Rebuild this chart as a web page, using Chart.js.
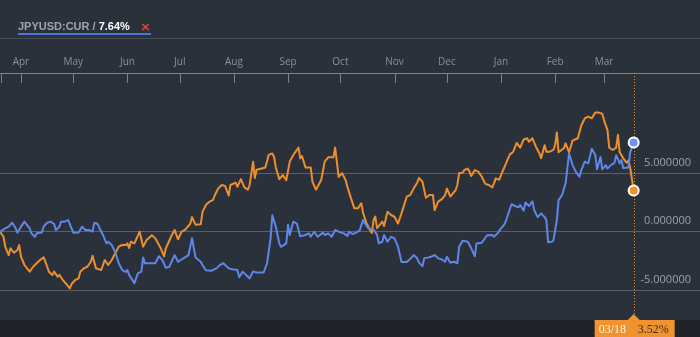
<!DOCTYPE html>
<html>
<head>
<meta charset="utf-8">
<script src="https://cdn.jsdelivr.net/npm/chart.js@4.4.0/dist/chart.umd.min.js"></script>
<style>
  html, body { margin: 0; padding: 0; background: #2a313b; }
  #wrap { position: relative; width: 700px; height: 337px; overflow: hidden; background: #2a313b; }
  #chart { position: absolute; left: 0; top: 0; }
  .sep { position: absolute; left: 0; top: 38px; width: 700px; height: 1px; background: #454c56; }
  .legend { position: absolute; left: 18px; top: 18px; height: 17px; line-height: 12px;
            font: bold 11px "Liberation Sans", Arial, sans-serif; color: #9ea4ad; white-space: nowrap; }
  .legend .val { color: #ffffff; }
  .legend .close { color: #e2453b; margin-left: 10px; font: bold 13px "DejaVu Sans", sans-serif; position: relative; top: 1px; }
  .legend .underline { position: absolute; left: 0; right: 0; top: 15px; height: 2px; background: #4f74d8; }
</style>
</head>
<body>
<div id="wrap">
  <canvas id="chart" width="700" height="337"></canvas>
  <div class="sep"></div>
  <div class="legend"><span id="legendName"></span> / <span class="val" id="legendVal"></span><span class="close">×</span><div class="underline"></div></div>
</div>
<script>
// ---- data ----------------------------------------------------------------
const START_DATE = '2018-03-20';
const DAYS_AFTER_LAST = 38;

const jpyName = 'JPYUSD:CUR';
const jpyDates = [
  '2018-03-20','2018-03-23','2018-03-25','2018-03-27','2018-03-29','2018-03-30','2018-04-01','2018-04-03','2018-04-04','2018-04-06',
  '2018-04-07','2018-04-09','2018-04-10','2018-04-13','2018-04-14','2018-04-16','2018-04-18','2018-04-20','2018-04-21','2018-04-23',
  '2018-04-24','2018-04-26','2018-04-28','2018-04-29','2018-05-01','2018-05-04','2018-05-06','2018-05-08','2018-05-10','2018-05-12',
  '2018-05-13','2018-05-15','2018-05-16','2018-05-18','2018-05-20','2018-05-21','2018-05-23','2018-05-25','2018-05-27','2018-05-29',
  '2018-05-31','2018-06-01','2018-06-02','2018-06-05','2018-06-07','2018-06-09','2018-06-10','2018-06-11','2018-06-17','2018-06-19',
  '2018-06-21','2018-06-23','2018-06-25','2018-06-28','2018-06-30','2018-07-03','2018-07-06','2018-07-08','2018-07-10','2018-07-13',
  '2018-07-14','2018-07-16','2018-07-19','2018-07-22','2018-07-24','2018-07-26','2018-07-29','2018-07-31','2018-08-03','2018-08-04',
  '2018-08-06','2018-08-10','2018-08-12','2018-08-14','2018-08-18','2018-08-20','2018-08-22','2018-08-23','2018-08-25','2018-08-27',
  '2018-08-28','2018-08-31','2018-09-01','2018-09-02','2018-09-04','2018-09-06','2018-09-08','2018-09-11','2018-09-13','2018-09-14',
  '2018-09-16','2018-09-18','2018-09-21','2018-09-22','2018-09-24','2018-09-26','2018-09-28','2018-09-30','2018-10-03','2018-10-05',
  '2018-10-06','2018-10-08','2018-10-10','2018-10-12','2018-10-14','2018-10-15','2018-10-17','2018-10-20','2018-10-22','2018-10-23',
  '2018-10-25','2018-10-26','2018-10-28','2018-10-30','2018-11-01','2018-11-03','2018-11-05','2018-11-08','2018-11-10','2018-11-12',
  '2018-11-14','2018-11-15','2018-11-17','2018-11-18','2018-11-20','2018-11-22','2018-11-24','2018-11-26','2018-11-28','2018-11-30',
  '2018-12-01','2018-12-03','2018-12-05','2018-12-07','2018-12-08','2018-12-10','2018-12-13','2018-12-15','2018-12-17','2018-12-18',
  '2018-12-21','2018-12-24','2018-12-27','2018-12-28','2018-12-30','2019-01-01','2019-01-03','2019-01-04','2019-01-07','2019-01-09',
  '2019-01-11','2019-01-12','2019-01-14','2019-01-15','2019-01-17','2019-01-19','2019-01-20','2019-01-22','2019-01-24','2019-01-26',
  '2019-01-27','2019-01-28','2019-01-30','2019-01-31','2019-02-02','2019-02-03','2019-02-05','2019-02-07','2019-02-09','2019-02-11',
  '2019-02-13','2019-02-15','2019-02-16','2019-02-18','2019-02-20','2019-02-22','2019-02-24','2019-02-25','2019-02-27','2019-02-28',
  '2019-03-02','2019-03-03','2019-03-05','2019-03-07','2019-03-08','2019-03-10','2019-03-11','2019-03-12','2019-03-15','2019-03-16',
  '2019-03-18'
];
const jpyValues = [
  0, 0.29, 0.43, 0.77, 0.29, -0.08, 0.43, 0.86, 0.66, 0.29,
  -0.14, -0.43, -0.14, -0.06, 0.43, 0.77, 0.86, 0.66, 0.15, 0.43,
  0.86, 0.86, 1.0, 0.66, -0.08, -0.06, 0.43, 0.15, 0.15, 0,
  0.77, 0.66, 0.29, -0.28, -1.0, -0.86, -1.14, -1.75, -2.7, -3.28,
  -3.45, -3.28, -3.71, -4.4, -3.56, -3.42, -2.2, -2.7, -2.7, -2.1,
  -2.42, -3.1, -3.0, -2.0, -2.57, -2.28, -2.0, -0.55, -2.2, -2.57,
  -2.85, -3.3, -3.34, -3.14, -2.85, -2.7, -3.14, -3.22, -3.28, -3.9,
  -3.42, -4.0, -3.4, -3.5, -3.5, -2.7, -0.57, 1.4, 0.43, -1.0,
  -1.3, -1.0, 0.6, -0.28, 0.85, 0.72, -0.4, -0.28, -0.14, -0.43,
  0, -0.43, -0.08, -0.28, -0.14, -0.43, 0.15, 0, -0.14, -0.37,
  0, -0.2, -0.08, 0.09, 1.0, 0.72, 0.29, 0.2, -0.28, -1.0,
  -0.86, -0.28, -0.86, -0.43, -0.57, -1.28, -2.6, -2.6, -2.34, -2.0,
  -2.28, -2.65, -2.95, -2.28, -2.22, -2.14, -2.0, -2.28, -2.37, -2.57,
  -2.14, -2.65, -2.57, -2.7, -1.3, -0.77, -0.86, -1.43, -2.1, -1.0,
  -0.94, -0.3, -0.28, -0.43, -0.14, 0.29, 0.65, 1.0, 2.35, 2.2,
  2.09, 2.28, 1.8, 2.5, 2.2, 2.6, 1.85, 1.25, 1.57, 1.25,
  1.0, -0.9, -0.86, -0.77, 1.0, 2.7, 3.14, 4.15, 6.7, 5.7,
  5.1, 4.7, 5.28, 6.0, 5.85, 7.1, 6.57, 5.35, 6.4, 5.34,
  5.7, 5.42, 5.7, 5.9, 6.55, 5.85, 6.14, 5.45, 5.5, 6.8,
  7.64
];

const benchName = 'Benchmark';
const benchDates = [
  '2018-03-20','2018-03-22','2018-03-23','2018-03-25','2018-03-26','2018-03-28','2018-03-30','2018-03-31','2018-04-01','2018-04-03',
  '2018-04-06','2018-04-08','2018-04-10','2018-04-12','2018-04-14','2018-04-15','2018-04-17','2018-04-19','2018-04-20','2018-04-22',
  '2018-04-23','2018-04-25','2018-04-27','2018-04-29','2018-04-30','2018-05-02','2018-05-04','2018-05-05','2018-05-07','2018-05-09',
  '2018-05-11','2018-05-12','2018-05-14','2018-05-17','2018-05-19','2018-05-21','2018-05-23','2018-05-25','2018-05-27','2018-05-29',
  '2018-05-31','2018-06-01','2018-06-02','2018-06-03','2018-06-05','2018-06-08','2018-06-10','2018-06-12','2018-06-15','2018-06-17',
  '2018-06-20','2018-06-22','2018-06-23','2018-06-26','2018-06-28','2018-06-30','2018-07-02','2018-07-04','2018-07-07','2018-07-08',
  '2018-07-10','2018-07-13','2018-07-14','2018-07-16','2018-07-18','2018-07-20','2018-07-21','2018-07-23','2018-07-25','2018-07-27',
  '2018-07-29','2018-07-30','2018-08-02','2018-08-03','2018-08-05','2018-08-07','2018-08-09','2018-08-10','2018-08-12','2018-08-13',
  '2018-08-14','2018-08-17','2018-08-19','2018-08-21','2018-08-23','2018-08-24','2018-08-25','2018-08-27','2018-08-29','2018-08-31',
  '2018-09-02','2018-09-04','2018-09-07','2018-09-08','2018-09-09','2018-09-11','2018-09-14','2018-09-15','2018-09-17','2018-09-20',
  '2018-09-22','2018-09-24','2018-09-27','2018-09-28','2018-09-30','2018-10-02','2018-10-04','2018-10-05','2018-10-07','2018-10-09',
  '2018-10-11','2018-10-13','2018-10-14','2018-10-16','2018-10-18','2018-10-19','2018-10-20','2018-10-21','2018-10-22','2018-10-25',
  '2018-10-26','2018-10-28','2018-10-30','2018-11-01','2018-11-03','2018-11-05','2018-11-08','2018-11-10','2018-11-12','2018-11-14',
  '2018-11-15','2018-11-17','2018-11-19','2018-11-21','2018-11-23','2018-11-24','2018-11-26','2018-11-28','2018-11-30','2018-12-01',
  '2018-12-03','2018-12-06','2018-12-07','2018-12-08','2018-12-10','2018-12-11','2018-12-13','2018-12-14','2018-12-15','2018-12-17',
  '2018-12-19','2018-12-21','2018-12-23','2018-12-25','2018-12-27','2018-12-28','2018-12-29','2018-12-31','2019-01-02','2019-01-04',
  '2019-01-06','2019-01-08','2019-01-10','2019-01-12','2019-01-14','2019-01-16','2019-01-17','2019-01-19','2019-01-21','2019-01-23',
  '2019-01-24','2019-01-26','2019-01-27','2019-01-29','2019-01-31','2019-02-01','2019-02-02','2019-02-03','2019-02-06','2019-02-07',
  '2019-02-09','2019-02-11','2019-02-14','2019-02-16','2019-02-18','2019-02-20','2019-02-22','2019-02-24','2019-02-26','2019-02-28',
  '2019-03-01','2019-03-03','2019-03-04','2019-03-06','2019-03-08','2019-03-09','2019-03-10','2019-03-12','2019-03-14','2019-03-15',
  '2019-03-16','2019-03-18'
];
const benchValues = [
  0, -0.43, -1.28, -2.0, -1.42, -1.8, -1.57, -1.14, -2.14, -2.85,
  -3.42, -3.0, -2.7, -2.42, -2.2, -2.57, -3.42, -3.7, -3.42, -3.85,
  -3.7, -4.14, -4.48, -4.85, -4.48, -4.14, -4.0, -3.42, -3.14, -3.0,
  -2.57, -2.05, -3.14, -3.28, -2.42, -2.85, -2.42, -1.85, -1.28, -1.14,
  -1.14, -1.0, -1.4, -0.86, -1.0, 0, -1.28, -0.71, -0.3, -0.57,
  -1.4, -2.1, -1.42, -0.43, 0.15, -0.65, 0, 0.15, 0.7, 1.25,
  0.6, 0.63, 1.7, 2.3, 2.57, 2.7, 3.1, 3.7, 4.0, 3.91,
  3.1, 4.0, 4.2, 3.85, 4.5, 3.8, 3.6, 4.0, 6.0, 4.6,
  5.3, 5.42, 5.5, 6.6, 6.7, 6.42, 5.5, 4.5, 4.85, 4.42,
  6.0, 6.57, 7.2, 6.28, 6.48, 5.5, 5.5, 4.28, 3.6, 4.42,
  6.0, 6.37, 6.37, 7.2, 4.7, 5.0, 4.42, 3.85, 2.9, 2.0,
  2.0, 2.43, 1.6, 0.7, 0.15, -0.1, 1.0, 1.3, 0.3, 0.86,
  0.49, 1.7, 1.43, 1.28, 0.7, 1.57, 3.0, 3.14, 3.71, 4.2,
  4.6, 4.28, 2.9, 3.14, 3.14, 1.85, 2.57, 2.77, 3.14, 3.7,
  3.0, 3.57, 4.0, 5.0, 5.05, 5.28, 5.4, 5.14, 4.77, 5.28,
  5.14, 4.71, 4.1, 4.0, 3.8, 4.14, 4.57, 4.45, 5.2, 5.9,
  6.6, 6.85, 7.6, 7.2, 7.9, 8.0, 7.7, 8.0, 7.28, 6.7,
  6.3, 7.4, 6.85, 6.85, 7.0, 7.42, 8.5, 6.8, 7.14, 7.57,
  6.8, 7.8, 8.0, 9.1, 9.7, 9.85, 9.71, 10.2, 10.2, 10.1,
  9.56, 8.7, 7.2, 7.0, 7.2, 8.3, 6.8, 6.3, 5.9, 6.1,
  5.5, 3.52
];

const monthTickDates = ['2018-04-01','2018-05-01','2018-06-01','2018-07-01','2018-08-01','2018-09-01',
                        '2018-10-01','2018-11-01','2018-12-01','2019-01-01','2019-02-01','2019-03-01'];
const monthTickLabels = ['Apr','May','Jun','Jul','Aug','Sep','Oct','Nov','Dec','Jan','Feb','Mar'];
const yTickValues = [-5, 0, 5];
const Y_MIN = -7.56;
const Y_MAX = 13.59;

// ---- colours -------------------------------------------------------------
const BLUE = '#5f86e8';
const ORANGE = '#ee8f2d';
const TAG_ORANGE = '#f0932f';

// ---- helpers -------------------------------------------------------------
function utc(iso) {
  const [y, m, d] = iso.split('-').map(Number);
  return Date.UTC(y, m - 1, d);
}
const START_MS = utc(START_DATE);
function dayOf(iso) { return Math.round((utc(iso) - START_MS) / 86400000); }
function points(dates, values) { return dates.map((d, i) => ({ x: dayOf(d), y: values[i] })); }

const lastDate = jpyDates[jpyDates.length - 1];
const lastDay = dayOf(lastDate);
const lastPointOnly = (ctx) => ctx.dataIndex === ctx.dataset.data.length - 1 ? 5 : 0;

document.getElementById('legendName').textContent = jpyName;
document.getElementById('legendVal').textContent = jpyValues[jpyValues.length - 1].toFixed(2) + '%';

// ---- decorations drawn through the scales ---------------------------------
const decorations = {
  id: 'decorations',
  beforeDatasetsDraw(chart) {
    const { ctx, chartArea: a, scales: { x } } = chart;
    ctx.save();
    // short tick marks hanging below the top axis line
    ctx.strokeStyle = '#7c8189';
    ctx.lineWidth = 1;
    ctx.beginPath();
    const firstPx = Math.round(x.getPixelForValue(dayOf(jpyDates[0]))) + 1.5;
    ctx.moveTo(firstPx, a.top); ctx.lineTo(firstPx, a.top + 10);
    x.ticks.forEach(t => {
      const px = Math.round(x.getPixelForValue(t.value)) + 0.5;
      ctx.moveTo(px, a.top); ctx.lineTo(px, a.top + 10);
    });
    ctx.stroke();
    // dotted marker at the latest date
    const lx = Math.round(x.getPixelForValue(lastDay)) + 0.5;
    ctx.strokeStyle = TAG_ORANGE;
    ctx.setLineDash([1, 2]);
    ctx.beginPath();
    ctx.moveTo(lx, a.top);
    ctx.lineTo(lx, a.bottom - 6);
    ctx.stroke();
    ctx.restore();
  },
  afterDraw(chart) {
    const { ctx, chartArea: a, scales: { x } } = chart;
    const lx = x.getPixelForValue(lastDay);
    ctx.save();
    // footer strip
    ctx.fillStyle = '#1f2328';
    ctx.fillRect(0, a.bottom, chart.width, chart.height - a.bottom);
    // date / value tag for the benchmark series
    ctx.fillStyle = TAG_ORANGE;
    ctx.fillRect(lx - 39, a.bottom, 80, chart.height - a.bottom);
    ctx.beginPath();
    ctx.moveTo(lx - 6, a.bottom);
    ctx.lineTo(lx, a.bottom - 6);
    ctx.lineTo(lx + 6, a.bottom);
    ctx.closePath();
    ctx.fill();
    const [, mm, dd] = lastDate.split('-');
    ctx.font = '12px "Liberation Serif", serif';
    ctx.textBaseline = 'alphabetic';
    ctx.textAlign = 'left';
    ctx.fillStyle = '#fff4e8';
    ctx.fillText(mm + '/' + dd, lx - 35, a.bottom + 12.5);
    ctx.fillStyle = '#3b2e23';
    ctx.fillText(benchValues[benchValues.length - 1].toFixed(2) + '%', lx + 4, a.bottom + 12.5);
    ctx.restore();
  }
};

new Chart(document.getElementById('chart'), {
  type: 'line',
  data: {
    datasets: [
      {
        label: jpyName,
        data: points(jpyDates, jpyValues),
        borderColor: BLUE,
        borderWidth: 2,
        borderJoinStyle: 'round',
        tension: 0,
        pointRadius: lastPointOnly,
        pointHoverRadius: 0,
        pointBackgroundColor: '#6c92f2',
        pointBorderColor: '#ffffff',
        pointBorderWidth: 2
      },
      {
        label: benchName,
        data: points(benchDates, benchValues),
        borderColor: ORANGE,
        borderWidth: 2,
        borderJoinStyle: 'round',
        tension: 0,
        pointRadius: lastPointOnly,
        pointHoverRadius: 0,
        pointBackgroundColor: TAG_ORANGE,
        pointBorderColor: '#ffffff',
        pointBorderWidth: 2
      }
    ]
  },
  options: {
    responsive: false,
    animation: false,
    events: [],
    layout: { autoPadding: false, padding: { top: 38, bottom: 17, left: 0, right: 0 } },
    plugins: { legend: { display: false }, tooltip: { enabled: false } },
    scales: {
      x: {
        type: 'linear',
        position: 'top',
        min: 0,
        max: lastDay + DAYS_AFTER_LAST,
        afterFit(scale) { scale.height = 35; scale.paddingLeft = 0; scale.paddingRight = 0; },
        afterBuildTicks(scale) { scale.ticks = monthTickDates.map(d => ({ value: dayOf(d) })); },
        grid: { display: false, drawTicks: false },
        border: { display: true, color: '#7c8189', width: 1 },
        ticks: {
          autoSkip: false,
          maxRotation: 0,
          padding: 5,
          color: '#8b9098',
          font: { family: '"Open Sans", sans-serif', size: 10 },
          callback: (v, i) => monthTickLabels[i]
        }
      },
      y: {
        type: 'linear',
        position: 'right',
        min: Y_MIN,
        max: Y_MAX,
        afterFit(scale) { scale.width = 0; scale.paddingTop = 0; scale.paddingBottom = 0; },
        afterBuildTicks(scale) { scale.ticks = yTickValues.map(v => ({ value: v })); },
        grid: { color: '#5a6068', lineWidth: 1, drawTicks: false },
        border: { display: false },
        ticks: {
          mirror: true,
          align: 'end',
          padding: -9,
          labelOffset: -5,
          color: '#9ca1a8',
          font: { family: '"Open Sans", sans-serif', size: 11 },
          callback: (v) => Number(v).toFixed(6)
        }
      }
    }
  },
  plugins: [decorations]
});
</script>
</body>
</html>
